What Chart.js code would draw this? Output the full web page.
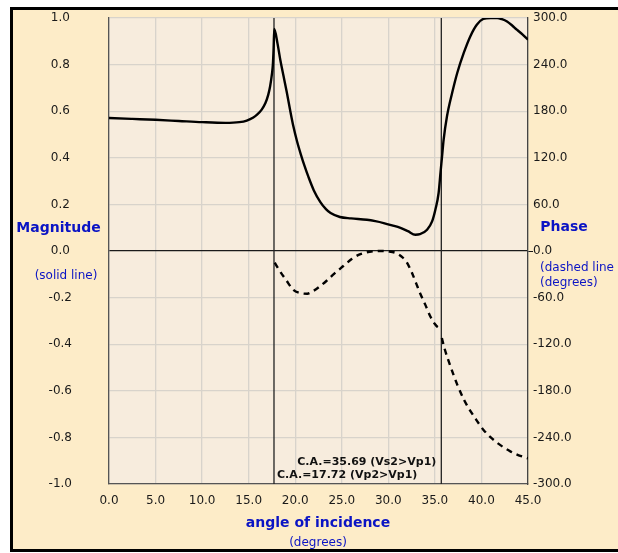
<!DOCTYPE html>
<html lang="en">
<head>
    <meta charset="UTF-8">
    <title>Reflection coefficient vs angle of incidence</title>
    <style>
        * {
            margin: 0;
            padding: 0;
            box-sizing: border-box;
        }
        html, body {
            background: #fff;
            width: 618px;
            height: 553px;
            overflow: hidden;
        }
        body {
            position: relative;
        }
        .frame {
            position: absolute;
            left: 10px;
            top: 7px;
            width: 640px;
            height: 545px;
            background: #fdecc8;
            border-left: 3px solid #000;
            border-top: 3px solid #000;
            border-bottom: 3px solid #000;
        }
        canvas {
            position: absolute;
            left: 0;
            top: 0;
        }
    </style>
</head>
<body>
    <div class="frame"></div>
    <canvas id="rcChart" width="618" height="553"></canvas>

    <script src="https://cdn.jsdelivr.net/npm/chart.js"></script>
    <script>
        // critical angles (degrees)
        const critP = 17.72;
        const critS = 35.69;

        // magnitude of the reflection coefficient (solid line, left axis)
        const magAngle = [0, 2.5, 5, 7.5, 10, 12.5, 14, 14.8, 15.5, 15.9, 16.4, 16.8, 17.1, 17.3, 17.5, 17.6, 17.68, 17.75,
            18.1, 18.4, 18.75, 19.1, 19.45, 19.8, 20.2, 20.6, 21.0, 21.4, 22.0, 22.7, 23.3, 23.8, 24.8, 26.0, 27.7,
            28.6, 29.5, 30.4, 31.3, 32.1, 32.9, 33.4, 34.16, 34.7, 35.05, 35.4, 35.6, 35.77, 35.94, 36.3, 36.85,
            37.4, 38.1, 38.8, 39.5, 40.2, 41.0, 41.7, 42.2, 42.75, 43.3, 43.8, 44.4, 45.0];
        const magnitude = [0.571, 0.567, 0.563, 0.558, 0.553, 0.550, 0.553, 0.560, 0.573, 0.585, 0.607, 0.635, 0.670, 0.706, 0.760, 0.800, 0.870, 0.953,
            0.890, 0.820, 0.750, 0.680, 0.605, 0.535, 0.470, 0.415, 0.365, 0.320, 0.260, 0.210, 0.180, 0.163, 0.146, 0.140, 0.134,
            0.128, 0.120, 0.110, 0.099, 0.085, 0.070, 0.072, 0.091, 0.127, 0.177, 0.249, 0.335, 0.406, 0.478, 0.578, 0.678,
            0.764, 0.850, 0.921, 0.971, 0.996, 1.0, 1.0, 0.995, 0.985, 0.968, 0.950, 0.930, 0.907];

        // phase in degrees (dashed line, right axis); null breaks the curve at the second critical angle
        const phaseAngle = [17.8, 18.3, 19.0, 19.8, 20.5, 21.3, 22.0, 22.7, 23.4, 24.2, 25.2, 26.1, 27.0, 28.0, 29.1, 30.0,
            30.9, 31.6, 32.0, 32.5, 33.0, 33.4, 34.0, 34.5, 35.0, 35.3, 35.65, 35.69,
            35.75, 36.0, 36.66, 37.4, 38.1, 38.6, 39.2, 40.2, 41.0, 41.7, 42.4, 43.1, 44.0, 45.0];
        const phase = [-15, -25, -37, -50, -54, -55, -51, -45, -38, -29, -19, -10, -4, -1, 0, -0.5,
            -3, -9, -15, -27, -42, -54, -70, -84, -94, -98, -99, null,
            -112, -124, -148, -172, -191, -202, -213, -230, -240, -247, -253, -258, -263, -267];

        const magTicks = { min: -1, max: 1, step: 0.2 };
        const phaseTicks = { min: -300, max: 300, step: 60 };
        const angleTicks = { min: 0, max: 45, step: 5 };

        const blue = '#0b14c4';
        const gridColor = '#d8d3cb';
        const font = 'DejaVu Sans';
        const isZero = (v) => Math.abs(v) < 1e-9;

        const toPoints = (xs, ys) => xs.map((x, i) => ({ x: x, y: ys[i] }));

        // plot background and the axis captions
        const decorations = {
            id: 'decorations',
            beforeDraw(chart) {
                const { ctx, chartArea: a } = chart;
                ctx.save();
                ctx.fillStyle = '#f7ecdd';
                ctx.fillRect(a.left, a.top, a.right - a.left, a.bottom - a.top);
                ctx.restore();
            },
            afterDraw(chart) {
                const { ctx } = chart;
                const text = (str, x, y, weight, size, color, align) => {
                    ctx.font = weight + ' ' + size + 'px "' + font + '"';
                    ctx.fillStyle = color;
                    ctx.textAlign = align;
                    ctx.textBaseline = 'middle';
                    ctx.fillText(str, x, y);
                };
                ctx.save();
                text('Magnitude', 58.5, 228, 'bold', 14, blue, 'center');
                text('(solid line)', 66, 275.5, 'normal', 12, blue, 'center');
                text('Phase', 564, 227.5, 'bold', 14, blue, 'center');
                text('(dashed line', 540, 267.5, 'normal', 12, blue, 'left');
                text('(degrees)', 540, 282.5, 'normal', 12, blue, 'left');
                text('angle of incidence', 318, 523, 'bold', 14, blue, 'center');
                text('(degrees)', 318, 543, 'normal', 12, blue, 'center');

                const x = chart.scales.x;
                text('C.A.=' + critS.toFixed(2) + ' (Vs2>Vp1)', x.getPixelForValue(critS) - 5, 462.5, 'bold', 11, '#111', 'right');
                text('C.A.=' + critP.toFixed(2) + ' (Vp2>Vp1)', x.getPixelForValue(critP) + 3, 475.5, 'bold', 11, '#111', 'left');
                ctx.restore();
            }
        };

        const ctx = document.getElementById('rcChart').getContext('2d');
        new Chart(ctx, {
            type: 'line',
            data: {
                datasets: [
                    {
                        label: 'Magnitude',
                        data: toPoints(magAngle, magnitude),
                        yAxisID: 'y',
                        borderColor: '#000',
                        borderWidth: 2.4,
                        pointRadius: 0,
                        cubicInterpolationMode: 'monotone',
                        order: 1
                    },
                    {
                        label: 'Phase',
                        data: toPoints(phaseAngle, phase),
                        yAxisID: 'y2',
                        borderColor: '#000',
                        borderWidth: 2.4,
                        borderDash: [6, 5],
                        pointRadius: 0,
                        spanGaps: false,
                        cubicInterpolationMode: 'monotone',
                        order: 2
                    },
                    {
                        label: 'C.A. P',
                        data: [{ x: critP, y: magTicks.min }, { x: critP, y: magTicks.max }],
                        yAxisID: 'y',
                        borderColor: '#222',
                        borderWidth: 1.3,
                        pointRadius: 0,
                        order: 3
                    },
                    {
                        label: 'C.A. S',
                        data: [{ x: critS, y: magTicks.min }, { x: critS, y: magTicks.max }],
                        yAxisID: 'y',
                        borderColor: '#222',
                        borderWidth: 1.3,
                        pointRadius: 0,
                        order: 3
                    }
                ]
            },
            options: {
                responsive: false,
                animation: false,
                devicePixelRatio: 1,
                layout: { padding: { top: 18, left: 0, right: 0, bottom: 0 } },
                plugins: {
                    legend: { display: false },
                    tooltip: { enabled: false }
                },
                scales: {
                    x: {
                        type: 'linear',
                        min: angleTicks.min,
                        max: angleTicks.max,
                        afterFit: (s) => { s.height = 69; },
                        ticks: {
                            stepSize: angleTicks.step,
                            padding: 10,
                            color: '#1a1a1a',
                            font: { family: font, size: 12 },
                            maxRotation: 0,
                            callback: (v) => Number(v).toFixed(1)
                        },
                        grid: { color: gridColor, lineWidth: 1.3, drawTicks: false },
                        border: { display: true, color: '#555', width: 1.3 }
                    },
                    y: {
                        position: 'left',
                        min: magTicks.min,
                        max: magTicks.max,
                        afterFit: (s) => { s.width = 109; },
                        ticks: {
                            stepSize: magTicks.step,
                            crossAlign: 'center',
                            padding: 0,
                            color: '#1a1a1a',
                            font: { family: font, size: 12 },
                            callback: (v) => Number(v).toFixed(1)
                        },
                        grid: {
                            // long invisible tick marks push the labels out to the left
                            drawTicks: true,
                            tickLength: 37,
                            tickColor: 'rgba(0,0,0,0)',
                            color: (c) => isZero(c.tick.value) ? '#1a1a1a' : gridColor,
                            lineWidth: (c) => isZero(c.tick.value) ? 1.2 : 1.3
                        },
                        border: { display: true, color: '#555', width: 1.3 }
                    },
                    y2: {
                        position: 'right',
                        min: phaseTicks.min,
                        max: phaseTicks.max,
                        afterFit: (s) => { s.width = 90; },
                        ticks: {
                            stepSize: phaseTicks.step,
                            crossAlign: 'near',
                            padding: 0,
                            color: '#1a1a1a',
                            font: { family: font, size: 12 },
                            callback: (v) => Number(v).toFixed(1)
                        },
                        grid: {
                            drawOnChartArea: false,
                            drawTicks: true,
                            tickLength: 5,
                            tickColor: (c) => isZero(c.tick.value) ? '#1a1a1a' : 'rgba(0,0,0,0)'
                        },
                        border: { display: true, color: '#444', width: 1.3 }
                    }
                }
            },
            plugins: [decorations]
        });
    </script>
</body>
</html>
